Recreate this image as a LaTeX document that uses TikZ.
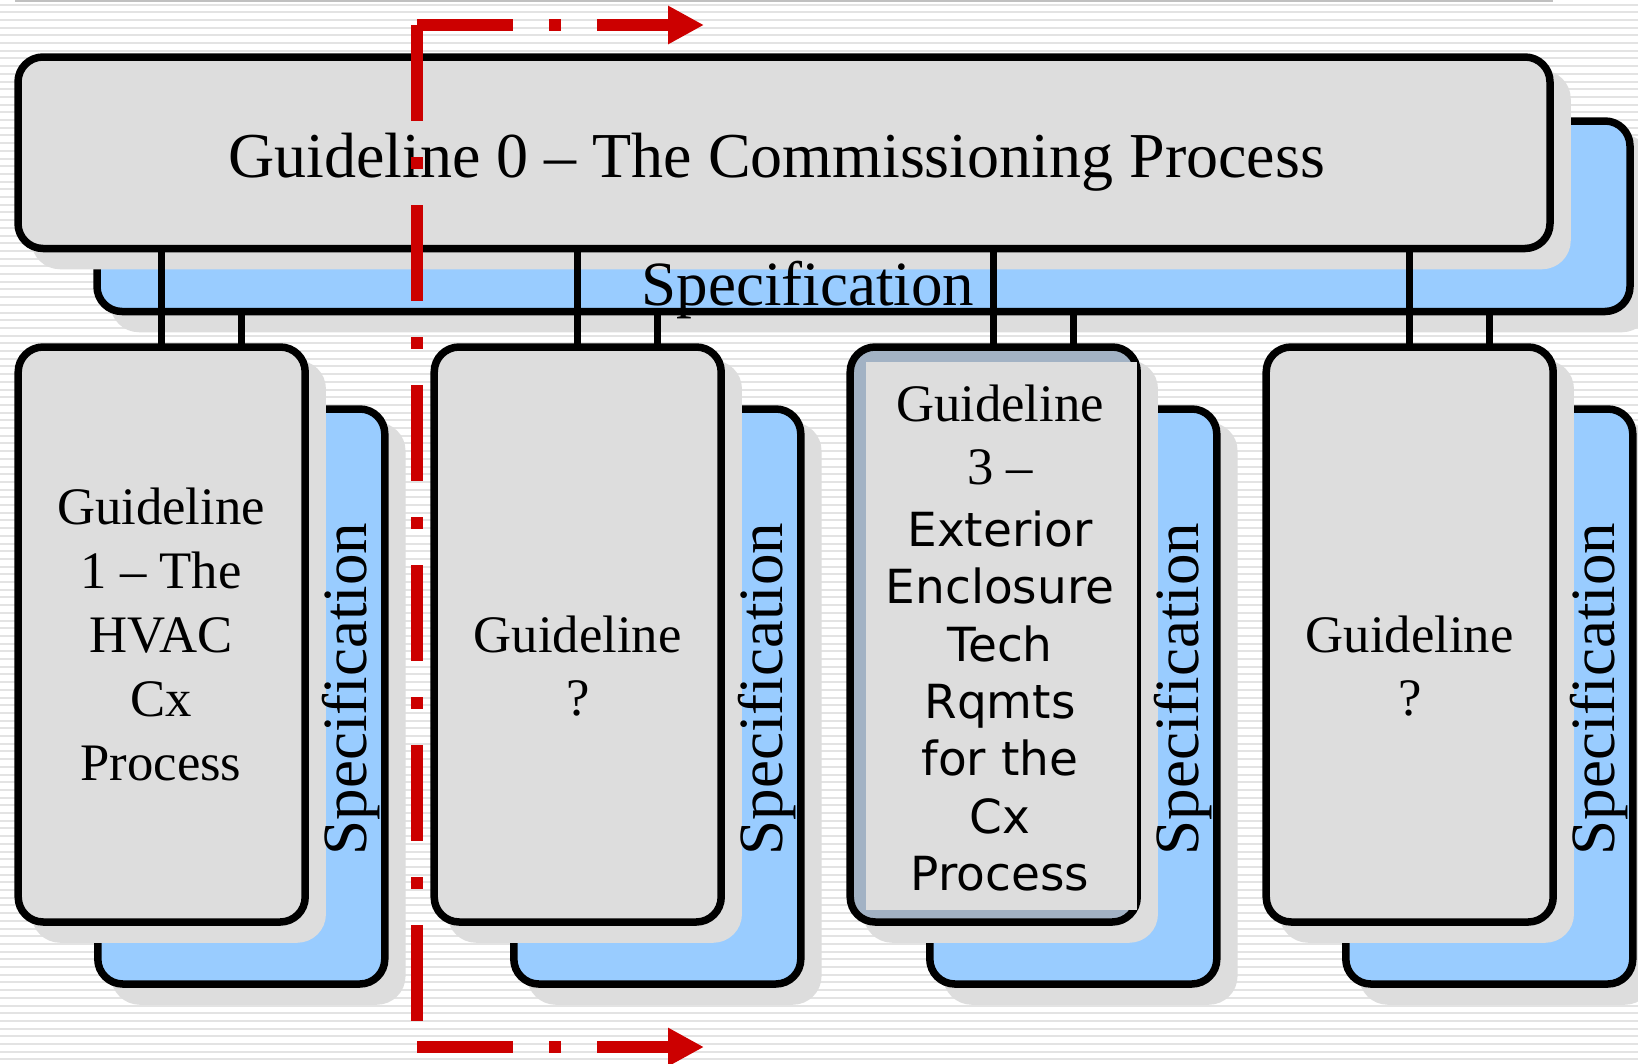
\documentclass[tikz,border=0pt]{standalone}
\usepackage{fontspec}
\setmainfont{Liberation Serif}
\newfontfamily\boxsans{DejaVu Sans}
\usetikzlibrary{arrows.meta,shadows}
\definecolor{gfill}{HTML}{DDDDDD}
\definecolor{bfill}{HTML}{99CCFF}
\definecolor{shc}{HTML}{DDDDDD}
\definecolor{slate}{HTML}{A2B2C4}
\definecolor{stripec}{HTML}{E3E3E3}
\definecolor{redc}{HTML}{CC0000}
\definecolor{toplinec}{HTML}{C0C0C0}
\tikzset{
  boxbase/.style={draw=black, line width=7.5pt, rounded corners=25pt, inner sep=0pt, outer sep=0pt,
    minimum width=287pt, minimum height=575pt,
    drop shadow={shadow xshift=17pt, shadow yshift=-17pt, fill=shc, draw=shc, line width=7.5pt, opacity=1}},
  graybox/.style={boxbase, fill=gfill},
  bluebox/.style={boxbase, fill=bfill},
  spectext/.style={font=\fontsize{63pt}{76pt}\selectfont, inner sep=0pt, anchor=base},
  titletext/.style={font=\fontsize{64pt}{77pt}\selectfont, inner sep=0pt, anchor=base},
  serifline/.style={font=\fontsize{52.7pt}{64pt}\selectfont, inner sep=0pt, anchor=base},
  sansline/.style={font=\boxsans\fontsize{47pt}{57pt}\selectfont, inner sep=0pt, anchor=base},
  connline/.style={draw=black, line width=6.5pt},
  redline/.style={draw=redc, line width=11.5pt, dash pattern=on 96pt off 36pt on 12pt off 36pt},
  redtip/.style={-{Triangle[length=36pt,width=36pt]}}
}
\begin{document}
\begin{tikzpicture}[x=1pt,y=-1pt]
\useasboundingbox (0,0) rectangle (1638,1063);
\fill[white] (0,0) rectangle (1638,1063);
\foreach \i in {0,...,137} \draw[stripec, line width=2pt] (0,{4.5+7.7*\i}) -- (1638,{4.5+7.7*\i});
\draw[toplinec, line width=1.5pt] (15,0.75) -- (1553,0.75);

% top level
\node[bluebox, minimum width=1533pt, minimum height=190.5pt] (tb) at (863.5,216.25) {};
\node[graybox, minimum width=1532pt, minimum height=191.5pt] (tg) at (784,152.75) {};
\node[spectext] (tbt) at (808,305) {Specification};
\node[titletext] (tgt) at (776.5,177) {Guideline 0 – The Commissioning Process};

% lower boxes
\foreach \k/\fc in {1/gfill,2/gfill,3/slate,4/gfill} {
  \pgfmathsetmacro\dx{416*(\k-1)}
  \node[bluebox] (b\k) at ({241.3+\dx},696.5) {};
  \node[graybox, fill=\fc] (g\k) at ({161.7+\dx},634.5) {};
  \node[spectext, rotate=90] (s\k) at ({366.5+\dx},689) {Specification};
}
\fill[gfill] (866,362) rectangle (1137,910);

% texts
\foreach \t [count=\i from 0] in {Guideline,1 – The,HVAC,Cx,Process}
  \node[serifline] (ta\i) at (161,{524+64*\i}) {\t};
\node[serifline] (tb0) at (577.7,652) {Guideline};
\node[serifline] (tb1) at (577.7,715.5) {?};
\node[serifline] (tc0) at (1000,421) {Guideline};
\node[serifline] (tc1) at (1000,484) {3 –};
\foreach \t/\y [count=\i from 2] in {Exterior/546,Enclosure/603.5,Tech/661,Rqmts/718,for the/775,Cx/833.5,Process/890}
  \node[sansline] (tc\i) at (1000,\y) {\t};
\node[serifline] (td0) at (1409.7,652) {Guideline};
\node[serifline] (td1) at (1409.7,715.5) {?};

% connectors
\foreach \k in {1,...,4} {
  \draw[connline] (g\k.north) -- (g\k.north |- tg.south);
  \draw[connline] (b\k.north |- g\k.north) -- (b\k.north |- tb.south);
}

% red dash-dot line
\coordinate (rc) at (417,25);
\coordinate (rv) at (417,1040);
\coordinate (ra) at (704,25);
\coordinate (rb0) at (417,1047);
\coordinate (rb1) at (704,1047);
\draw[redline] (rc) -- (rv);
\draw[redline, redtip] (rc) -- (ra);
\draw[redline, redtip] (rb0) -- (rb1);
\end{tikzpicture}
\end{document}
